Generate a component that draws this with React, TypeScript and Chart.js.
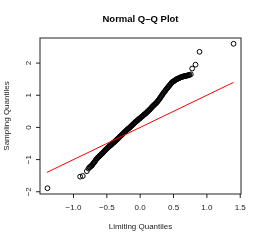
import React, { useEffect, useRef } from "react";
import { Chart, registerables } from "chart.js";

Chart.register(...registerables);

const chartTitle = "Normal Q–Q Plot";
const xAxisTitle = "Limiting Quantiles";
const yAxisTitle = "Sampling Quantiles";

const xTicks = [-1.0, -0.5, 0.0, 0.5, 1.0, 1.5];
const yTicks = [-2, -1, 0, 1, 2];

// Limiting (theoretical) quantiles
const limitingQ = [
  -1.39, -0.9, -0.86, -0.8, -0.775, -0.76,
  -0.75, -0.74, -0.73, -0.72, -0.71, -0.7, -0.69, -0.68, -0.67, -0.66,
  -0.65, -0.64, -0.63, -0.62, -0.61, -0.6, -0.59, -0.58, -0.57, -0.56,
  -0.55, -0.54, -0.53, -0.52, -0.51, -0.5, -0.49, -0.48, -0.47, -0.46,
  -0.45, -0.44, -0.43, -0.42, -0.41, -0.4, -0.39, -0.38, -0.37, -0.36,
  -0.35, -0.34, -0.33, -0.32, -0.31, -0.3, -0.29, -0.28, -0.27, -0.26,
  -0.25, -0.24, -0.23, -0.22, -0.21, -0.2, -0.19, -0.18, -0.17, -0.16,
  -0.15, -0.14, -0.13, -0.12, -0.11, -0.1, -0.09, -0.08, -0.07, -0.06,
  -0.05, -0.04, -0.03, -0.02, -0.01, 0.0, 0.01, 0.02, 0.03, 0.04,
  0.05, 0.06, 0.07, 0.08, 0.09, 0.1, 0.11, 0.12, 0.13, 0.14,
  0.15, 0.16, 0.17, 0.18, 0.19, 0.2, 0.21, 0.22, 0.23, 0.24,
  0.25, 0.26, 0.27, 0.28, 0.29, 0.3, 0.31, 0.32, 0.33, 0.34,
  0.35, 0.36, 0.37, 0.38, 0.39, 0.4, 0.41, 0.42, 0.43, 0.44,
  0.45, 0.46, 0.47, 0.48, 0.49, 0.5, 0.51, 0.52, 0.53, 0.54,
  0.55, 0.56, 0.57, 0.58, 0.59, 0.6, 0.61, 0.62, 0.63, 0.64,
  0.65, 0.66, 0.67, 0.68, 0.69, 0.7, 0.71, 0.72, 0.73, 0.74,
  0.76, 0.78, 0.83, 0.89, 1.4,
];

// Sampling quantiles
const samplingQ = [
  -1.89, -1.53, -1.51, -1.36, -1.28, -1.24,
  -1.23, -1.21, -1.19, -1.17, -1.14, -1.11, -1.09, -1.06, -1.03, -1.0,
  -0.97, -0.95, -0.93, -0.91, -0.89, -0.87, -0.85, -0.83, -0.81, -0.79,
  -0.77, -0.75, -0.72, -0.7, -0.68, -0.66, -0.64, -0.62, -0.6, -0.58,
  -0.57, -0.55, -0.53, -0.51, -0.49, -0.47, -0.46, -0.44, -0.42, -0.4,
  -0.38, -0.36, -0.34, -0.32, -0.3, -0.28, -0.26, -0.24, -0.22, -0.2,
  -0.18, -0.16, -0.14, -0.12, -0.1, -0.08, -0.06, -0.04, -0.03, -0.01,
  0.01, 0.03, 0.05, 0.07, 0.09, 0.11, 0.13, 0.15, 0.17, 0.19,
  0.2, 0.22, 0.24, 0.26, 0.27, 0.29, 0.31, 0.33, 0.34, 0.36,
  0.38, 0.4, 0.41, 0.43, 0.45, 0.47, 0.49, 0.51, 0.53, 0.55,
  0.57, 0.59, 0.62, 0.64, 0.66, 0.68, 0.7, 0.72, 0.74, 0.76,
  0.78, 0.81, 0.83, 0.86, 0.89, 0.92, 0.95, 0.98, 1.01, 1.04,
  1.07, 1.1, 1.12, 1.15, 1.18, 1.21, 1.23, 1.26, 1.28, 1.31,
  1.33, 1.36, 1.38, 1.41, 1.42, 1.43, 1.45, 1.46, 1.48, 1.49,
  1.5, 1.51, 1.52, 1.53, 1.54, 1.55, 1.56, 1.57, 1.575, 1.58,
  1.585, 1.59, 1.595, 1.6, 1.605, 1.61, 1.615, 1.62, 1.625, 1.63,
  1.65, 1.83, 1.95, 2.35, 2.6,
];

// Reference line end points
const refLineX = [-1.4, 1.4];
const refLineY = [-1.4, 1.4];

const FONT = '"Liberation Sans", Arial, Helvetica, sans-serif';

function fmt(v: number, digits: number): string {
  const s = digits > 0 ? v.toFixed(digits) : String(v);
  return s.replace("-", "\u2212");
}

function rRange(vals: number[]): [number, number] {
  const mn = Math.min(...vals);
  const mx = Math.max(...vals);
  const ext = (mx - mn) * 0.04;
  return [mn - ext, mx + ext];
}

const rAxesPlugin = {
  id: "rAxes",
  afterDraw(chart: any) {
    const ctx = chart.ctx as CanvasRenderingContext2D;
    const { left, right, top, bottom } = chart.chartArea;
    const xs = chart.scales.x;
    const ys = chart.scales.y;
    ctx.save();
    ctx.strokeStyle = "#222";
    ctx.lineWidth = 1;
    ctx.strokeRect(left, top, right - left, bottom - top);

    ctx.beginPath();
    xTicks.forEach((v) => {
      const px = xs.getPixelForValue(v);
      ctx.moveTo(px, bottom);
      ctx.lineTo(px, bottom + 4);
    });
    yTicks.forEach((v) => {
      const py = ys.getPixelForValue(v);
      ctx.moveTo(left, py);
      ctx.lineTo(left - 4, py);
    });
    ctx.stroke();

    ctx.fillStyle = "#222";
    ctx.font = `8px ${FONT}`;
    ctx.textAlign = "center";
    ctx.textBaseline = "middle";
    xTicks.forEach((v) => {
      const px = xs.getPixelForValue(v);
      ctx.fillText(fmt(v, 1), px, 207.5);
    });
    yTicks.forEach((v) => {
      const py = ys.getPixelForValue(v);
      ctx.save();
      ctx.translate(28.5, py);
      ctx.rotate(-Math.PI / 2);
      ctx.fillText(fmt(v, 0), 0, 0);
      ctx.restore();
    });

    ctx.fillText(xAxisTitle, (left + right) / 2, 226.5);
    ctx.save();
    ctx.translate(6.5, (top + bottom) / 2);
    ctx.rotate(-Math.PI / 2);
    ctx.fillText(yAxisTitle, 0, 0);
    ctx.restore();

    ctx.fillStyle = "#000";
    ctx.font = `bold 9.5px ${FONT}`;
    ctx.fillText(chartTitle, (left + right) / 2, 19);
    ctx.restore();
  },
};

export default function App() {
  const ref = useRef<HTMLCanvasElement | null>(null);

  useEffect(() => {
    if (!ref.current) return;
    const [xMin, xMax] = rRange(limitingQ);
    const [yMin, yMax] = rRange(samplingQ);
    const points = limitingQ.map((x, i) => ({ x, y: samplingQ[i] }));
    const line = refLineX.map((x, i) => ({ x, y: refLineY[i] }));

    const chart = new Chart(ref.current, {
      type: "scatter",
      data: {
        datasets: [
          {
            label: "reference",
            data: line,
            showLine: true,
            borderColor: "#ff0000",
            borderWidth: 1,
            pointRadius: 0,
            fill: false,
          },
          {
            label: "sample",
            data: points,
            showLine: false,
            pointRadius: 2.4,
            pointBorderWidth: 1,
            pointBorderColor: "#000",
            pointBackgroundColor: "rgba(0,0,0,0)",
          },
        ],
      },
      options: {
        animation: false,
        responsive: false,
        maintainAspectRatio: false,
        layout: { padding: { left: 40, right: 20, top: 38, bottom: 47 } },
        plugins: {
          legend: { display: false },
          tooltip: { enabled: false },
          title: { display: false },
        },
        scales: {
          x: { type: "linear", min: xMin, max: xMax, display: false },
          y: { type: "linear", min: yMin, max: yMax, display: false },
        },
      },
      plugins: [rAxesPlugin],
    });
    return () => chart.destroy();
  }, []);

  return (
    <div style={{ position: "fixed", left: 0, top: 0, width: 261, height: 241, background: "#fff" }}>
      <canvas ref={ref} width={261} height={241} style={{ width: 261, height: 241, display: "block" }} />
    </div>
  );
}
